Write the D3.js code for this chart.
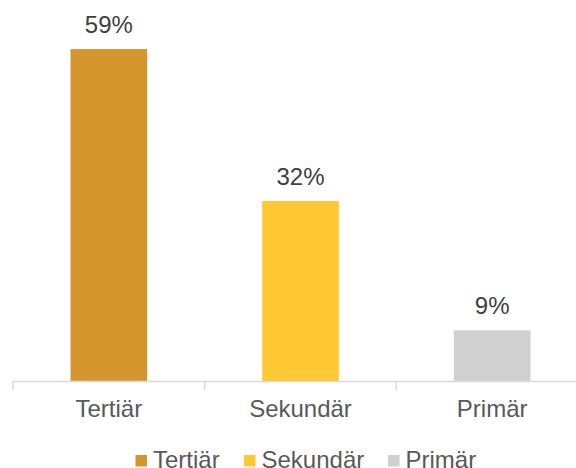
<!DOCTYPE html>
<html>
<head>
<meta charset="utf-8">
<script src="https://cdn.jsdelivr.net/npm/d3@7"></script>
<style>
  body { margin: 0; background: #fff; }
  svg text { font-family: "Liberation Sans", Arial, sans-serif; }
</style>
</head>
<body>
<div id="chart"></div>
<script>
// data
var categories = ["Tertiär", "Sekundär", "Primär"];
var values = [0.59, 0.32, 0.09];
var colors = ["#D5952D", "#FFC933", "#D0D0D0"];

var width = 576
var height = 468

var svg = d3.select("#chart")
  .append("svg")
    .attr("width", width)
    .attr("height", height)

// category slots, ticks sit on the slot edges
var x = d3.scaleBand()
  .domain(categories)
  .range([13, 588])
  .padding(0)

var y = d3.scaleLinear()
  .domain([0, 0.6])
  .range([381, 43.5])

var barW = x.bandwidth() * 0.4
var fmt = d3.format(".0%")

svg.selectAll("rect.bar")
  .data(values)
  .enter()
  .append("rect")
  .attr("class", "bar")
  .attr("x", function(d, i) { return x(categories[i]) + x.bandwidth() / 2 - barW / 2 })
  .attr("y", function(d) { return y(d) })
  .attr("width", barW)
  .attr("height", function(d) { return y(0) - y(d) })
  .attr("fill", function(d, i) { return colors[i] })

// data labels
svg.selectAll("text.lbl")
  .data(values)
  .enter()
  .append("text")
  .attr("class", "lbl")
  .attr("x", function(d, i) { return x(categories[i]) + x.bandwidth() / 2 })
  .attr("y", function(d) { return y(d) - 16.5 })
  .attr("text-anchor", "middle")
  .attr("font-size", "24px")
  .attr("fill", "#404040")
  .text(function(d) { return fmt(d) })

// x axis
var axis = d3.axisBottom(x).tickSize(0).tickPadding(19)
var gx = svg.append("g")
  .attr("transform", "translate(0," + y(0) + ")")
  .call(axis)
gx.select(".domain").attr("stroke", "#D9D9D9").attr("stroke-width", 1.5)
gx.selectAll("text")
  .attr("font-size", "24px")
  .attr("fill", "#595959")
  .attr("font-family", "Liberation Sans, Arial, sans-serif")

var edges = categories.map(function(c) { return x(c) }).concat([x.range()[1]])
svg.selectAll("line.tick")
  .data(edges)
  .enter()
  .append("line")
  .attr("class", "tick")
  .attr("x1", function(d) { return d })
  .attr("x2", function(d) { return d })
  .attr("y1", y(0))
  .attr("y2", y(0) + 9)
  .attr("stroke", "#D9D9D9")
  .attr("stroke-width", 1.5)

// legend
var legendX = [135.5, 244, 388]
var legend = svg.selectAll("g.leg")
  .data(categories)
  .enter()
  .append("g")
  .attr("class", "leg")
  .attr("transform", function(d, i) { return "translate(" + legendX[i] + ",455)" })

legend.append("rect")
  .attr("width", 11.5)
  .attr("height", 11.5)
  .attr("fill", function(d, i) { return colors[i] })

legend.append("text")
  .attr("x", 17.5)
  .attr("y", 13)
  .attr("font-size", "24px")
  .attr("fill", "#595959")
  .text(function(d) { return d })
</script>
</body>
</html>
